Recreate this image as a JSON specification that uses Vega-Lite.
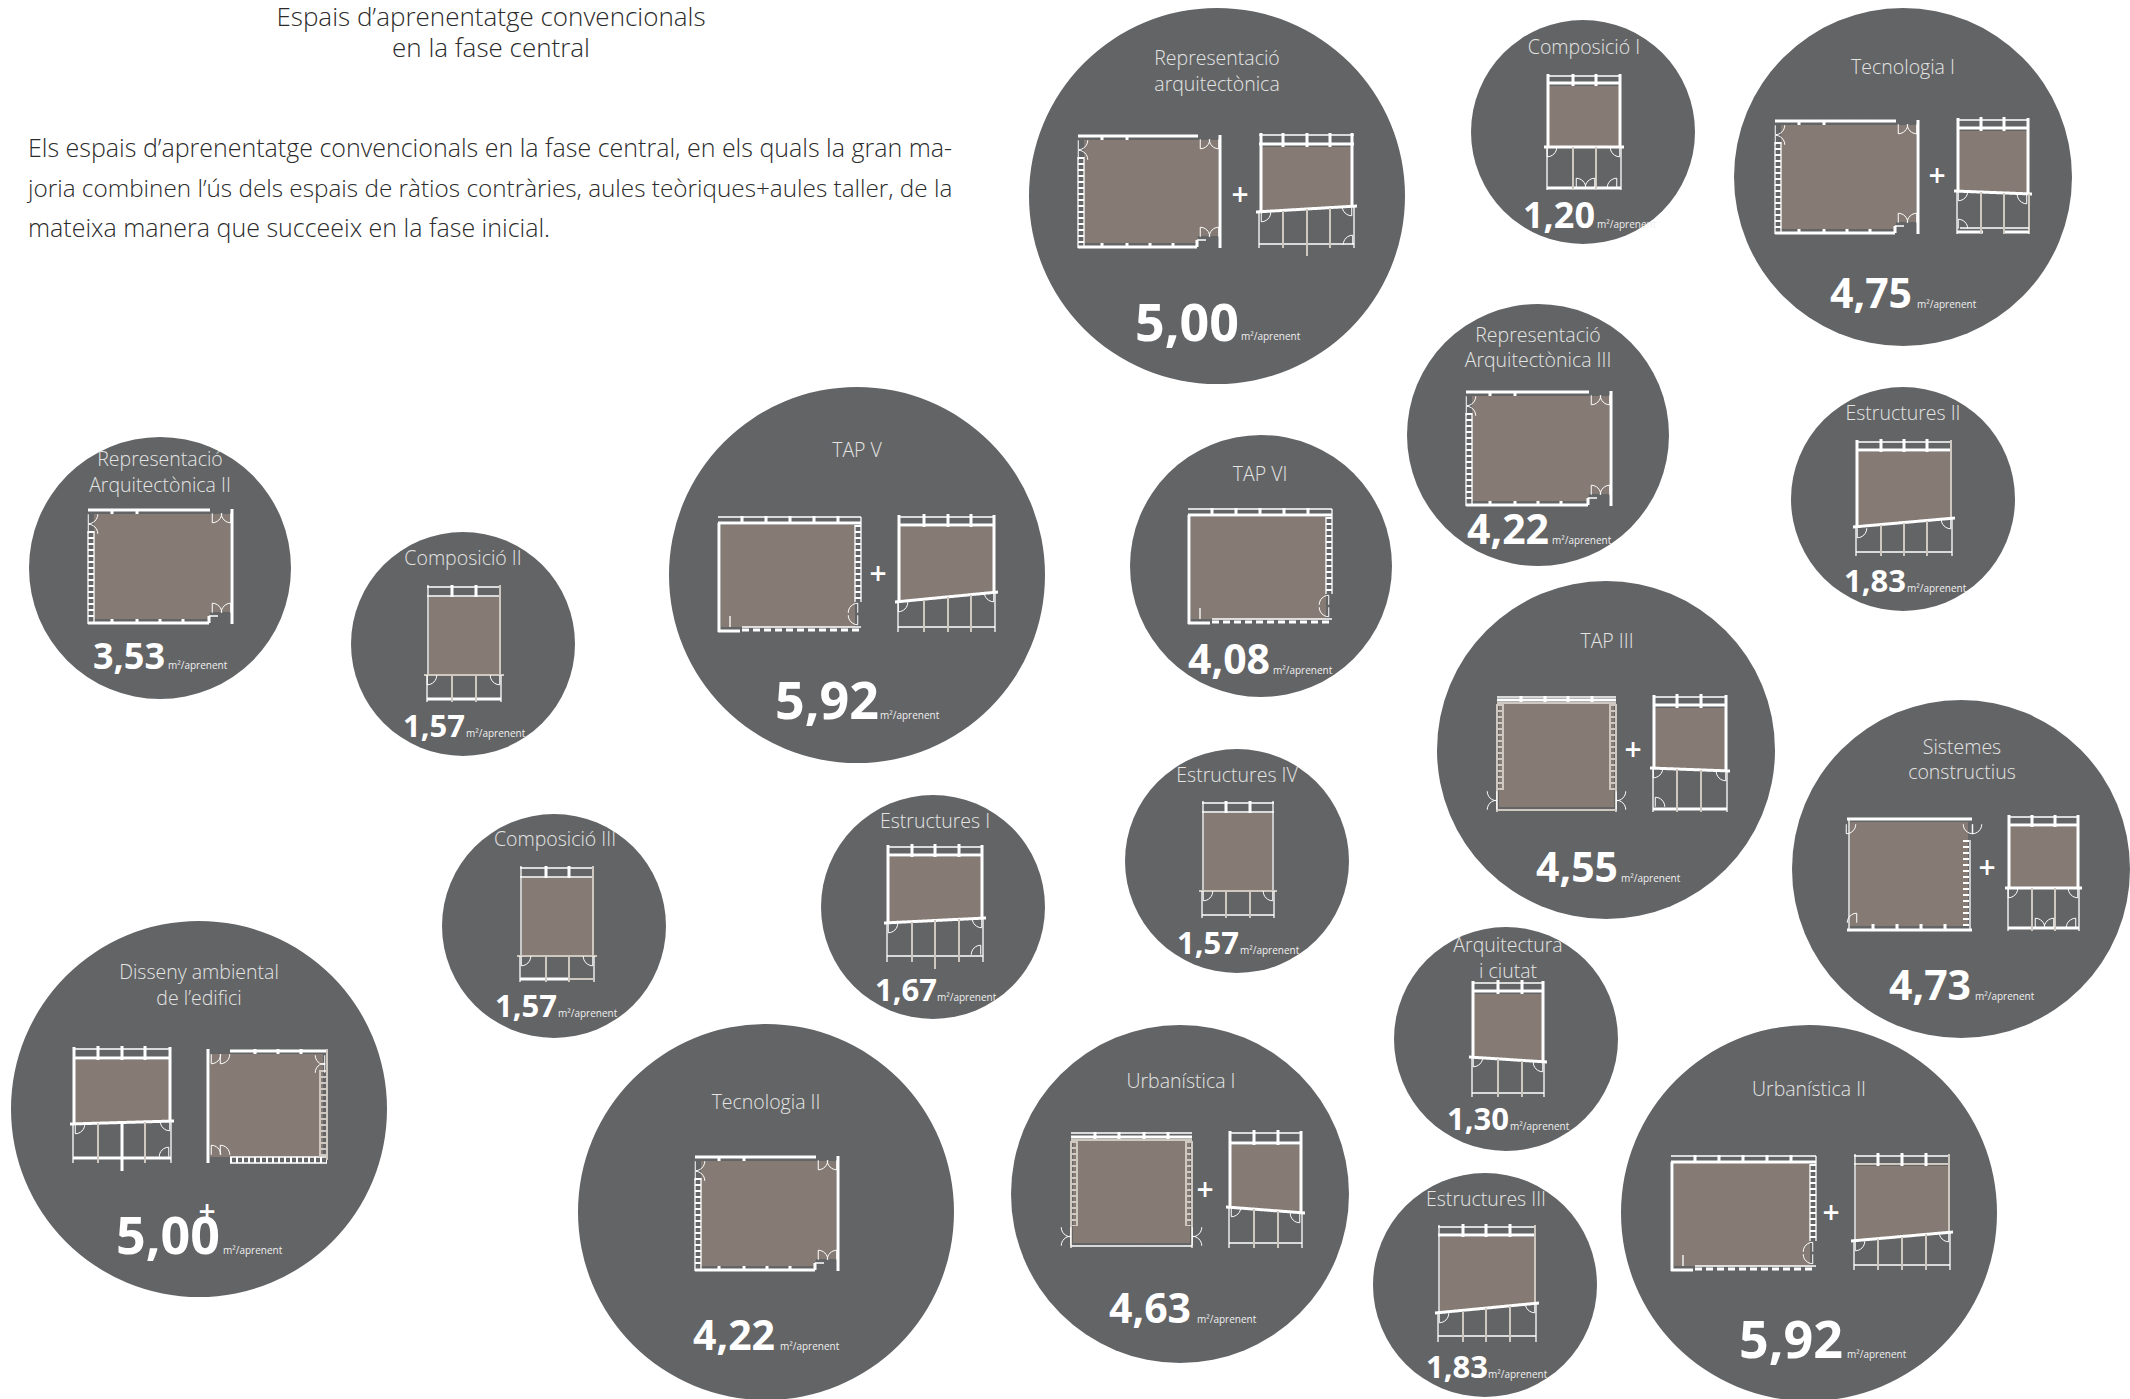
{"$schema":"https://vega.github.io/schema/vega-lite/v6.json","width":2130,"height":1399,"padding":0,"autosize":"none","background":"#ffffff","config":{"view":{"stroke":null}},
"datasets":{
"cercles":[
{"nom":"Representació arquitectònica","x":1217,"y":196,"mida":"a"},{"nom":"Composició I","x":1583,"y":132,"mida":"d"},{"nom":"Tecnologia I","x":1903,"y":177,"mida":"b"},{"nom":"Representació Arquitectònica III","x":1538,"y":435,"mida":"c"},{"nom":"Estructures II","x":1903,"y":499,"mida":"d"},{"nom":"Representació Arquitectònica II","x":160,"y":568,"mida":"c"},{"nom":"Composició II","x":463,"y":644,"mida":"d"},{"nom":"TAP V","x":857,"y":575,"mida":"a"},{"nom":"TAP VI","x":1261,"y":566,"mida":"c"},{"nom":"TAP III","x":1606,"y":750,"mida":"b"},{"nom":"Sistemes constructius","x":1961,"y":869,"mida":"b"},{"nom":"Composició III","x":554,"y":926,"mida":"d"},{"nom":"Estructures I","x":933,"y":907,"mida":"d"},{"nom":"Estructures IV","x":1237,"y":861,"mida":"d"},{"nom":"Arquitectura i ciutat","x":1506,"y":1039,"mida":"d"},{"nom":"Disseny ambiental de l’edifici","x":199,"y":1109,"mida":"a"},{"nom":"Tecnologia II","x":766,"y":1212,"mida":"a"},{"nom":"Urbanística I","x":1180,"y":1194,"mida":"b"},{"nom":"Estructures III","x":1485,"y":1285,"mida":"d"},{"nom":"Urbanística II","x":1809,"y":1213,"mida":"a"}],
"sales":[
{"s":"r1t","x":1084,"y":140,"y2":243},{"s":"r1t","x":1197,"y":140,"y2":243},{"s":"r1t","x":1198,"y":140,"y2":236},{"s":"r1t","x":1218,"y":140,"y2":236},
{"s":"r3t","x":1781,"y":125,"y2":229},{"s":"r3t","x":1895,"y":125,"y2":229},{"s":"r3t","x":1896,"y":125,"y2":222},{"s":"r3t","x":1916,"y":125,"y2":222},
{"s":"r4t","x":1472,"y":396,"y2":501},{"s":"r4t","x":1588,"y":396,"y2":501},{"s":"r4t","x":1589,"y":396,"y2":494},{"s":"r4t","x":1609,"y":396,"y2":494},
{"s":"r6t","x":94,"y":514,"y2":619},{"s":"r6t","x":209,"y":514,"y2":619},{"s":"r6t","x":210,"y":514,"y2":612},{"s":"r6t","x":230,"y":514,"y2":612},
{"s":"r17t","x":701,"y":1161,"y2":1266},{"s":"r17t","x":815,"y":1161,"y2":1266},{"s":"r17t","x":816,"y":1161,"y2":1259},{"s":"r17t","x":836,"y":1161,"y2":1259},
{"s":"r8t","x":721,"y":525,"y2":627},{"s":"r8t","x":855,"y":525,"y2":627},
{"s":"r9t","x":1191,"y":517,"y2":619},{"s":"r9t","x":1326,"y":517,"y2":619},
{"s":"r20t","x":1674,"y":1163,"y2":1266},{"s":"r20t","x":1810,"y":1163,"y2":1266},
{"s":"r10t","x":1499,"y":703,"y2":807},{"s":"r10t","x":1614,"y":703,"y2":807},
{"s":"r18t","x":1073,"y":1141,"y2":1243},{"s":"r18t","x":1190,"y":1141,"y2":1243},
{"s":"r16t","x":210,"y":1054,"y2":1157},{"s":"r16t","x":323,"y":1054,"y2":1157},
{"s":"r11t","x":1850,"y":822,"y2":926},{"s":"r11t","x":1968,"y":822,"y2":926},
{"s":"r1w","x":1261,"y":147,"y2":212},{"s":"r1w","x":1352,"y":147,"y2":206},
{"s":"r3w","x":1959,"y":131,"y2":191},{"s":"r3w","x":2027,"y":131,"y2":194},
{"s":"r2w","x":1549,"y":86,"y2":147},{"s":"r2w","x":1619,"y":86,"y2":147},
{"s":"r5w","x":1858,"y":452,"y2":527},{"s":"r5w","x":1950,"y":452,"y2":518},
{"s":"r7w","x":429,"y":597,"y2":675},{"s":"r7w","x":499,"y":597,"y2":675},
{"s":"r8w","x":900,"y":527,"y2":602},{"s":"r8w","x":993,"y":527,"y2":592},
{"s":"r10w","x":1655,"y":708,"y2":768},{"s":"r10w","x":1725,"y":708,"y2":771},
{"s":"r11w","x":2010,"y":827,"y2":888},{"s":"r11w","x":2077,"y":827,"y2":888},
{"s":"r12w","x":522,"y":878,"y2":956},{"s":"r12w","x":592,"y":878,"y2":956},
{"s":"r13w","x":889,"y":857,"y2":923},{"s":"r13w","x":981,"y":857,"y2":918},
{"s":"r14w","x":1204,"y":813,"y2":891},{"s":"r14w","x":1272,"y":813,"y2":891},
{"s":"r15w","x":1474,"y":994,"y2":1057},{"s":"r15w","x":1542,"y":994,"y2":1062},
{"s":"r16w","x":75,"y":1060,"y2":1124},{"s":"r16w","x":169,"y":1060,"y2":1121},
{"s":"r18w","x":1231,"y":1145,"y2":1207},{"s":"r18w","x":1300,"y":1145,"y2":1213},
{"s":"r19w","x":1440,"y":1237,"y2":1313},{"s":"r19w","x":1534,"y":1237,"y2":1303},
{"s":"r20w","x":1856,"y":1166,"y2":1241},{"s":"r20w","x":1948,"y":1166,"y2":1232}],
"murs":[
{"x":1078,"y":136,"x2":1198,"y2":136,"t":"m"},{"x":1220,"y":135,"x2":1220,"y2":248,"t":"m"},{"x":1078,"y":247,"x2":1197,"y2":247,"t":"m"},{"x":1197,"y":247,"x2":1197,"y2":240,"t":"m"},{"x":1197,"y":240,"x2":1206,"y2":240,"t":"f"},{"x":1078,"y":157,"x2":1078,"y2":248,"t":"f"},{"x":1084,"y":157,"x2":1084,"y2":248,"t":"f"},{"x":1081,"y":157,"x2":1081,"y2":245,"t":"e"},{"x":1102,"y":243,"x2":1102,"y2":248,"t":"m"},{"x":1127,"y":243,"x2":1127,"y2":248,"t":"m"},{"x":1150,"y":243,"x2":1150,"y2":248,"t":"m"},{"x":1173,"y":243,"x2":1173,"y2":248,"t":"m"},{"x":1102,"y":136,"x2":1102,"y2":140,"t":"m"},{"x":1127,"y":136,"x2":1127,"y2":140,"t":"m"},
{"x":1775,"y":121,"x2":1896,"y2":121,"t":"m"},{"x":1918,"y":120,"x2":1918,"y2":234,"t":"m"},{"x":1775,"y":233,"x2":1895,"y2":233,"t":"m"},{"x":1895,"y":233,"x2":1895,"y2":226,"t":"m"},{"x":1895,"y":226,"x2":1904,"y2":226,"t":"f"},{"x":1775,"y":142,"x2":1775,"y2":234,"t":"f"},{"x":1781,"y":142,"x2":1781,"y2":234,"t":"f"},{"x":1778,"y":142,"x2":1778,"y2":231,"t":"e"},{"x":1799,"y":229,"x2":1799,"y2":234,"t":"m"},{"x":1824,"y":229,"x2":1824,"y2":234,"t":"m"},{"x":1847,"y":229,"x2":1847,"y2":234,"t":"m"},{"x":1870,"y":229,"x2":1870,"y2":234,"t":"m"},{"x":1799,"y":121,"x2":1799,"y2":125,"t":"m"},{"x":1824,"y":121,"x2":1824,"y2":125,"t":"m"},
{"x":1466,"y":392,"x2":1589,"y2":392,"t":"m"},{"x":1611,"y":391,"x2":1611,"y2":506,"t":"m"},{"x":1466,"y":505,"x2":1588,"y2":505,"t":"m"},{"x":1588,"y":505,"x2":1588,"y2":498,"t":"m"},{"x":1588,"y":498,"x2":1597,"y2":498,"t":"f"},{"x":1466,"y":413,"x2":1466,"y2":506,"t":"f"},{"x":1472,"y":413,"x2":1472,"y2":506,"t":"f"},{"x":1469,"y":413,"x2":1469,"y2":503,"t":"e"},{"x":1490,"y":501,"x2":1490,"y2":506,"t":"m"},{"x":1515,"y":501,"x2":1515,"y2":506,"t":"m"},{"x":1538,"y":501,"x2":1538,"y2":506,"t":"m"},{"x":1561,"y":501,"x2":1561,"y2":506,"t":"m"},{"x":1490,"y":392,"x2":1490,"y2":396,"t":"m"},{"x":1515,"y":392,"x2":1515,"y2":396,"t":"m"},
{"x":88,"y":510,"x2":210,"y2":510,"t":"m"},{"x":232,"y":509,"x2":232,"y2":624,"t":"m"},{"x":88,"y":623,"x2":209,"y2":623,"t":"m"},{"x":209,"y":623,"x2":209,"y2":616,"t":"m"},{"x":209,"y":616,"x2":218,"y2":616,"t":"f"},{"x":88,"y":531,"x2":88,"y2":624,"t":"f"},{"x":94,"y":531,"x2":94,"y2":624,"t":"f"},{"x":91,"y":531,"x2":91,"y2":621,"t":"e"},{"x":112,"y":619,"x2":112,"y2":624,"t":"m"},{"x":137,"y":619,"x2":137,"y2":624,"t":"m"},{"x":160,"y":619,"x2":160,"y2":624,"t":"m"},{"x":183,"y":619,"x2":183,"y2":624,"t":"m"},{"x":112,"y":510,"x2":112,"y2":514,"t":"m"},{"x":137,"y":510,"x2":137,"y2":514,"t":"m"},
{"x":695,"y":1157,"x2":816,"y2":1157,"t":"m"},{"x":838,"y":1156,"x2":838,"y2":1271,"t":"m"},{"x":695,"y":1270,"x2":815,"y2":1270,"t":"m"},{"x":815,"y":1270,"x2":815,"y2":1263,"t":"m"},{"x":815,"y":1263,"x2":824,"y2":1263,"t":"f"},{"x":695,"y":1178,"x2":695,"y2":1271,"t":"f"},{"x":701,"y":1178,"x2":701,"y2":1271,"t":"f"},{"x":698,"y":1178,"x2":698,"y2":1268,"t":"e"},{"x":719,"y":1266,"x2":719,"y2":1271,"t":"m"},{"x":744,"y":1266,"x2":744,"y2":1271,"t":"m"},{"x":767,"y":1266,"x2":767,"y2":1271,"t":"m"},{"x":790,"y":1266,"x2":790,"y2":1271,"t":"m"},{"x":719,"y":1157,"x2":719,"y2":1161,"t":"m"},{"x":744,"y":1157,"x2":744,"y2":1161,"t":"m"},
{"x":718,"y":517,"x2":861,"y2":517,"t":"f"},{"x":718,"y":523,"x2":861,"y2":523,"t":"m"},{"x":719,"y":523,"x2":719,"y2":632,"t":"m"},{"x":861,"y":517,"x2":861,"y2":602,"t":"f"},{"x":858,"y":525,"x2":858,"y2":602,"t":"e"},{"x":855,"y":525,"x2":855,"y2":602,"t":"f"},{"x":718,"y":631,"x2":740,"y2":631,"t":"m"},{"x":742,"y":627,"x2":861,"y2":627,"t":"f"},{"x":742,"y":630,"x2":861,"y2":630,"t":"d"},{"x":730,"y":616,"x2":730,"y2":627,"t":"f"},{"x":742,"y":516,"x2":742,"y2":523,"t":"m"},{"x":766,"y":516,"x2":766,"y2":523,"t":"m"},{"x":790,"y":516,"x2":790,"y2":523,"t":"m"},{"x":814,"y":516,"x2":814,"y2":523,"t":"m"},{"x":838,"y":516,"x2":838,"y2":523,"t":"m"},
{"x":1188,"y":509,"x2":1332,"y2":509,"t":"f"},{"x":1188,"y":515,"x2":1332,"y2":515,"t":"m"},{"x":1189,"y":515,"x2":1189,"y2":624,"t":"m"},{"x":1332,"y":509,"x2":1332,"y2":594,"t":"f"},{"x":1329,"y":517,"x2":1329,"y2":594,"t":"e"},{"x":1326,"y":517,"x2":1326,"y2":594,"t":"f"},{"x":1188,"y":623,"x2":1210,"y2":623,"t":"m"},{"x":1212,"y":619,"x2":1332,"y2":619,"t":"f"},{"x":1212,"y":622,"x2":1332,"y2":622,"t":"d"},{"x":1200,"y":608,"x2":1200,"y2":619,"t":"f"},{"x":1212,"y":508,"x2":1212,"y2":515,"t":"m"},{"x":1236,"y":508,"x2":1236,"y2":515,"t":"m"},{"x":1260,"y":508,"x2":1260,"y2":515,"t":"m"},{"x":1284,"y":508,"x2":1284,"y2":515,"t":"m"},{"x":1308,"y":508,"x2":1308,"y2":515,"t":"m"},
{"x":1671,"y":1156,"x2":1816,"y2":1156,"t":"f"},{"x":1671,"y":1162,"x2":1816,"y2":1162,"t":"m"},{"x":1672,"y":1162,"x2":1672,"y2":1271,"t":"m"},{"x":1816,"y":1156,"x2":1816,"y2":1241,"t":"f"},{"x":1813,"y":1164,"x2":1813,"y2":1241,"t":"e"},{"x":1810,"y":1164,"x2":1810,"y2":1241,"t":"f"},{"x":1671,"y":1270,"x2":1693,"y2":1270,"t":"m"},{"x":1695,"y":1266,"x2":1816,"y2":1266,"t":"f"},{"x":1695,"y":1269,"x2":1816,"y2":1269,"t":"d"},{"x":1683,"y":1255,"x2":1683,"y2":1266,"t":"f"},{"x":1695,"y":1155,"x2":1695,"y2":1162,"t":"m"},{"x":1719,"y":1155,"x2":1719,"y2":1162,"t":"m"},{"x":1743,"y":1155,"x2":1743,"y2":1162,"t":"m"},{"x":1767,"y":1155,"x2":1767,"y2":1162,"t":"m"},{"x":1791,"y":1155,"x2":1791,"y2":1162,"t":"m"},
{"x":1497,"y":697,"x2":1616,"y2":697,"t":"f"},{"x":1497,"y":700,"x2":1616,"y2":700,"t":"m"},{"x":1497,"y":703,"x2":1616,"y2":703,"t":"c"},{"x":1500,"y":704,"x2":1500,"y2":790,"t":"ec"},{"x":1613,"y":704,"x2":1613,"y2":790,"t":"ec"},{"x":1503,"y":704,"x2":1503,"y2":790,"t":"c"},{"x":1610,"y":704,"x2":1610,"y2":790,"t":"c"},{"x":1497,"y":704,"x2":1497,"y2":812,"t":"c"},{"x":1616,"y":704,"x2":1616,"y2":812,"t":"c"},{"x":1497,"y":810,"x2":1616,"y2":810,"t":"c"},{"x":1521,"y":696,"x2":1521,"y2":702,"t":"m"},{"x":1545,"y":696,"x2":1545,"y2":702,"t":"m"},{"x":1568,"y":696,"x2":1568,"y2":702,"t":"m"},{"x":1592,"y":696,"x2":1592,"y2":702,"t":"m"},
{"x":1071,"y":1133,"x2":1192,"y2":1133,"t":"f"},{"x":1071,"y":1137,"x2":1192,"y2":1137,"t":"m"},{"x":1071,"y":1140,"x2":1192,"y2":1140,"t":"c"},{"x":1074,"y":1141,"x2":1074,"y2":1226,"t":"ec"},{"x":1189,"y":1141,"x2":1189,"y2":1226,"t":"ec"},{"x":1077,"y":1141,"x2":1077,"y2":1226,"t":"c"},{"x":1186,"y":1141,"x2":1186,"y2":1226,"t":"c"},{"x":1071,"y":1141,"x2":1071,"y2":1248,"t":"c"},{"x":1192,"y":1141,"x2":1192,"y2":1248,"t":"c"},{"x":1071,"y":1246,"x2":1192,"y2":1246,"t":"f"},{"x":1095,"y":1132,"x2":1095,"y2":1139,"t":"m"},{"x":1119,"y":1132,"x2":1119,"y2":1139,"t":"m"},{"x":1144,"y":1132,"x2":1144,"y2":1139,"t":"m"},{"x":1168,"y":1132,"x2":1168,"y2":1139,"t":"m"},
{"x":208,"y":1049,"x2":208,"y2":1163,"t":"m"},{"x":230,"y":1051,"x2":327,"y2":1051,"t":"m"},{"x":230,"y":1160,"x2":327,"y2":1160,"t":"e"},{"x":230,"y":1157,"x2":327,"y2":1157,"t":"f"},{"x":230,"y":1163,"x2":327,"y2":1163,"t":"f"},{"x":323,"y":1070,"x2":323,"y2":1157,"t":"ec"},{"x":320,"y":1070,"x2":320,"y2":1157,"t":"c"},{"x":327,"y":1049,"x2":327,"y2":1160,"t":"c"},{"x":255,"y":1049,"x2":255,"y2":1054,"t":"m"},{"x":278,"y":1049,"x2":278,"y2":1054,"t":"m"},{"x":301,"y":1049,"x2":301,"y2":1054,"t":"m"},
{"x":1847,"y":819,"x2":1972,"y2":819,"t":"m"},{"x":1849,"y":819,"x2":1849,"y2":931,"t":"f"},{"x":1847,"y":930,"x2":1972,"y2":930,"t":"m"},{"x":1966,"y":840,"x2":1966,"y2":926,"t":"e"},{"x":1970,"y":840,"x2":1970,"y2":931,"t":"f"},{"x":1873,"y":924,"x2":1873,"y2":931,"t":"m"},{"x":1897,"y":924,"x2":1897,"y2":931,"t":"m"},{"x":1921,"y":924,"x2":1921,"y2":931,"t":"m"},{"x":1945,"y":924,"x2":1945,"y2":931,"t":"m"},
{"x":1259,"y":135,"x2":1354,"y2":135,"t":"f"},{"x":1259,"y":144,"x2":1354,"y2":144,"t":"m"},{"x":1261,"y":133,"x2":1261,"y2":212,"t":"m"},{"x":1352,"y":133,"x2":1352,"y2":206,"t":"m"},{"x":1256,"y":212,"x2":1357,"y2":206,"t":"m"},{"x":1259,"y":212,"x2":1259,"y2":248,"t":"f"},{"x":1354,"y":206,"x2":1354,"y2":248,"t":"f"},{"x":1259,"y":244,"x2":1354,"y2":244,"t":"f"},{"x":1283,"y":133,"x2":1283,"y2":147,"t":"m"},{"x":1307,"y":133,"x2":1307,"y2":147,"t":"m"},{"x":1330,"y":133,"x2":1330,"y2":147,"t":"m"},{"x":1283,"y":211,"x2":1283,"y2":248,"t":"c"},{"x":1307,"y":209,"x2":1307,"y2":256,"t":"c"},{"x":1330,"y":208,"x2":1330,"y2":248,"t":"c"},
{"x":1957,"y":120,"x2":2029,"y2":120,"t":"f"},{"x":1957,"y":128,"x2":2029,"y2":128,"t":"m"},{"x":1958,"y":118,"x2":1958,"y2":191,"t":"m"},{"x":2028,"y":118,"x2":2028,"y2":194,"t":"m"},{"x":1954,"y":191,"x2":2032,"y2":194,"t":"m"},{"x":1957,"y":191,"x2":1957,"y2":234,"t":"f"},{"x":2029,"y":194,"x2":2029,"y2":234,"t":"c"},{"x":1957,"y":232,"x2":1983,"y2":232,"t":"m"},{"x":1960,"y":228,"x2":2029,"y2":228,"t":"f"},{"x":2004,"y":232,"x2":2029,"y2":232,"t":"m"},{"x":1981,"y":117,"x2":1981,"y2":131,"t":"m"},{"x":2004,"y":117,"x2":2004,"y2":131,"t":"m"},{"x":1981,"y":192,"x2":1981,"y2":234,"t":"c"},{"x":2004,"y":193,"x2":2004,"y2":234,"t":"c"},
{"x":1547,"y":76,"x2":1621,"y2":76,"t":"f"},{"x":1547,"y":83,"x2":1621,"y2":83,"t":"m"},{"x":1548,"y":74,"x2":1548,"y2":147,"t":"m"},{"x":1620,"y":74,"x2":1620,"y2":147,"t":"m"},{"x":1544,"y":147,"x2":1624,"y2":147,"t":"m"},{"x":1547,"y":147,"x2":1547,"y2":190,"t":"f"},{"x":1621,"y":147,"x2":1621,"y2":190,"t":"f"},{"x":1547,"y":188,"x2":1621,"y2":188,"t":"m"},{"x":1573,"y":74,"x2":1573,"y2":86,"t":"m"},{"x":1596,"y":74,"x2":1596,"y2":86,"t":"m"},{"x":1573,"y":147,"x2":1573,"y2":190,"t":"c"},{"x":1596,"y":147,"x2":1596,"y2":190,"t":"c"},
{"x":1856,"y":442,"x2":1952,"y2":442,"t":"f"},{"x":1856,"y":450,"x2":1952,"y2":450,"t":"m"},{"x":1857,"y":440,"x2":1857,"y2":527,"t":"m"},{"x":1951,"y":440,"x2":1951,"y2":518,"t":"c"},{"x":1853,"y":527,"x2":1955,"y2":518,"t":"m"},{"x":1856,"y":527,"x2":1856,"y2":556,"t":"f"},{"x":1952,"y":518,"x2":1952,"y2":556,"t":"f"},{"x":1856,"y":552,"x2":1952,"y2":552,"t":"f"},{"x":1881,"y":439,"x2":1881,"y2":452,"t":"m"},{"x":1904,"y":439,"x2":1904,"y2":452,"t":"m"},{"x":1927,"y":439,"x2":1927,"y2":452,"t":"m"},{"x":1881,"y":525,"x2":1881,"y2":556,"t":"c"},{"x":1904,"y":523,"x2":1904,"y2":556,"t":"c"},{"x":1927,"y":521,"x2":1927,"y2":556,"t":"c"},
{"x":427,"y":587,"x2":501,"y2":587,"t":"f"},{"x":427,"y":596,"x2":501,"y2":596,"t":"f"},{"x":428,"y":585,"x2":428,"y2":675,"t":"f"},{"x":500,"y":585,"x2":500,"y2":675,"t":"c"},{"x":424,"y":675,"x2":504,"y2":675,"t":"c"},{"x":427,"y":675,"x2":427,"y2":702,"t":"f"},{"x":501,"y":675,"x2":501,"y2":702,"t":"f"},{"x":427,"y":699,"x2":501,"y2":699,"t":"m"},{"x":452,"y":585,"x2":452,"y2":597,"t":"m"},{"x":476,"y":585,"x2":476,"y2":597,"t":"m"},{"x":452,"y":675,"x2":452,"y2":702,"t":"c"},{"x":476,"y":675,"x2":476,"y2":702,"t":"c"},
{"x":898,"y":517,"x2":995,"y2":517,"t":"f"},{"x":898,"y":525,"x2":995,"y2":525,"t":"m"},{"x":899,"y":515,"x2":899,"y2":602,"t":"m"},{"x":994,"y":515,"x2":994,"y2":592,"t":"m"},{"x":895,"y":602,"x2":998,"y2":592,"t":"m"},{"x":898,"y":602,"x2":898,"y2":632,"t":"f"},{"x":995,"y":592,"x2":995,"y2":632,"t":"f"},{"x":898,"y":627,"x2":995,"y2":627,"t":"f"},{"x":924,"y":514,"x2":924,"y2":527,"t":"m"},{"x":948,"y":514,"x2":948,"y2":527,"t":"m"},{"x":971,"y":514,"x2":971,"y2":527,"t":"m"},{"x":924,"y":600,"x2":924,"y2":632,"t":"c"},{"x":948,"y":597,"x2":948,"y2":632,"t":"c"},{"x":971,"y":595,"x2":971,"y2":632,"t":"c"},
{"x":1653,"y":697,"x2":1727,"y2":697,"t":"f"},{"x":1653,"y":705,"x2":1727,"y2":705,"t":"m"},{"x":1654,"y":695,"x2":1654,"y2":768,"t":"m"},{"x":1726,"y":695,"x2":1726,"y2":771,"t":"m"},{"x":1650,"y":768,"x2":1730,"y2":771,"t":"m"},{"x":1653,"y":768,"x2":1653,"y2":812,"t":"f"},{"x":1727,"y":771,"x2":1727,"y2":812,"t":"f"},{"x":1653,"y":809,"x2":1727,"y2":809,"t":"m"},{"x":1677,"y":694,"x2":1677,"y2":708,"t":"m"},{"x":1701,"y":694,"x2":1701,"y2":708,"t":"m"},{"x":1677,"y":769,"x2":1677,"y2":812,"t":"c"},{"x":1701,"y":770,"x2":1701,"y2":812,"t":"c"},
{"x":2008,"y":817,"x2":2079,"y2":817,"t":"f"},{"x":2008,"y":825,"x2":2079,"y2":825,"t":"m"},{"x":2009,"y":815,"x2":2009,"y2":888,"t":"m"},{"x":2078,"y":815,"x2":2078,"y2":888,"t":"m"},{"x":2005,"y":888,"x2":2082,"y2":888,"t":"m"},{"x":2008,"y":888,"x2":2008,"y2":931,"t":"f"},{"x":2079,"y":888,"x2":2079,"y2":931,"t":"f"},{"x":2008,"y":928,"x2":2079,"y2":928,"t":"m"},{"x":2032,"y":815,"x2":2032,"y2":827,"t":"m"},{"x":2055,"y":815,"x2":2055,"y2":827,"t":"m"},{"x":2032,"y":888,"x2":2032,"y2":931,"t":"c"},{"x":2055,"y":888,"x2":2055,"y2":931,"t":"c"},
{"x":520,"y":868,"x2":594,"y2":868,"t":"f"},{"x":520,"y":877,"x2":594,"y2":877,"t":"f"},{"x":521,"y":866,"x2":521,"y2":956,"t":"f"},{"x":593,"y":866,"x2":593,"y2":956,"t":"c"},{"x":517,"y":956,"x2":597,"y2":956,"t":"c"},{"x":520,"y":956,"x2":520,"y2":982,"t":"f"},{"x":594,"y":956,"x2":594,"y2":982,"t":"f"},{"x":520,"y":979,"x2":570,"y2":979,"t":"m"},{"x":570,"y":979,"x2":594,"y2":979,"t":"c"},{"x":546,"y":866,"x2":546,"y2":878,"t":"m"},{"x":569,"y":866,"x2":569,"y2":878,"t":"m"},{"x":546,"y":956,"x2":546,"y2":982,"t":"c"},{"x":569,"y":956,"x2":569,"y2":982,"t":"c"},
{"x":887,"y":847,"x2":983,"y2":847,"t":"f"},{"x":887,"y":855,"x2":983,"y2":855,"t":"m"},{"x":888,"y":845,"x2":888,"y2":923,"t":"m"},{"x":982,"y":845,"x2":982,"y2":918,"t":"m"},{"x":884,"y":923,"x2":986,"y2":918,"t":"m"},{"x":887,"y":923,"x2":887,"y2":962,"t":"f"},{"x":983,"y":918,"x2":983,"y2":962,"t":"f"},{"x":887,"y":956,"x2":983,"y2":956,"t":"f"},{"x":912,"y":844,"x2":912,"y2":857,"t":"m"},{"x":935,"y":844,"x2":935,"y2":857,"t":"m"},{"x":959,"y":844,"x2":959,"y2":857,"t":"m"},{"x":912,"y":922,"x2":912,"y2":962,"t":"c"},{"x":935,"y":920,"x2":935,"y2":969,"t":"c"},{"x":959,"y":919,"x2":959,"y2":962,"t":"c"},
{"x":1202,"y":803,"x2":1274,"y2":803,"t":"f"},{"x":1202,"y":812,"x2":1274,"y2":812,"t":"f"},{"x":1203,"y":801,"x2":1203,"y2":891,"t":"f"},{"x":1273,"y":801,"x2":1273,"y2":891,"t":"f"},{"x":1199,"y":891,"x2":1277,"y2":891,"t":"c"},{"x":1202,"y":891,"x2":1202,"y2":918,"t":"f"},{"x":1274,"y":891,"x2":1274,"y2":918,"t":"f"},{"x":1202,"y":915,"x2":1274,"y2":915,"t":"f"},{"x":1226,"y":801,"x2":1226,"y2":813,"t":"m"},{"x":1250,"y":801,"x2":1250,"y2":813,"t":"m"},{"x":1226,"y":891,"x2":1226,"y2":918,"t":"c"},{"x":1250,"y":891,"x2":1250,"y2":918,"t":"c"},
{"x":1472,"y":983,"x2":1544,"y2":983,"t":"f"},{"x":1472,"y":991,"x2":1544,"y2":991,"t":"m"},{"x":1473,"y":981,"x2":1473,"y2":1057,"t":"m"},{"x":1543,"y":981,"x2":1543,"y2":1062,"t":"m"},{"x":1469,"y":1057,"x2":1547,"y2":1062,"t":"m"},{"x":1472,"y":1057,"x2":1472,"y2":1097,"t":"f"},{"x":1544,"y":1062,"x2":1544,"y2":1097,"t":"f"},{"x":1472,"y":1093,"x2":1544,"y2":1093,"t":"f"},{"x":1498,"y":980,"x2":1498,"y2":994,"t":"m"},{"x":1522,"y":980,"x2":1522,"y2":994,"t":"m"},{"x":1498,"y":1059,"x2":1498,"y2":1097,"t":"c"},{"x":1522,"y":1061,"x2":1522,"y2":1097,"t":"c"},
{"x":73,"y":1049,"x2":171,"y2":1049,"t":"f"},{"x":73,"y":1058,"x2":171,"y2":1058,"t":"m"},{"x":74,"y":1047,"x2":74,"y2":1124,"t":"m"},{"x":170,"y":1047,"x2":170,"y2":1121,"t":"m"},{"x":70,"y":1124,"x2":174,"y2":1121,"t":"m"},{"x":73,"y":1124,"x2":73,"y2":1163,"t":"f"},{"x":171,"y":1121,"x2":171,"y2":1163,"t":"f"},{"x":73,"y":1158,"x2":171,"y2":1158,"t":"m"},{"x":98,"y":1046,"x2":98,"y2":1060,"t":"m"},{"x":122,"y":1046,"x2":122,"y2":1060,"t":"m"},{"x":145,"y":1046,"x2":145,"y2":1060,"t":"m"},{"x":98,"y":1123,"x2":98,"y2":1163,"t":"c"},{"x":122,"y":1122,"x2":122,"y2":1171,"t":"m"},{"x":145,"y":1122,"x2":145,"y2":1163,"t":"c"},
{"x":1229,"y":1133,"x2":1302,"y2":1133,"t":"f"},{"x":1229,"y":1143,"x2":1302,"y2":1143,"t":"m"},{"x":1230,"y":1131,"x2":1230,"y2":1207,"t":"m"},{"x":1301,"y":1131,"x2":1301,"y2":1213,"t":"m"},{"x":1226,"y":1207,"x2":1305,"y2":1213,"t":"m"},{"x":1229,"y":1207,"x2":1229,"y2":1248,"t":"f"},{"x":1302,"y":1213,"x2":1302,"y2":1248,"t":"f"},{"x":1229,"y":1243,"x2":1302,"y2":1243,"t":"f"},{"x":1254,"y":1130,"x2":1254,"y2":1145,"t":"m"},{"x":1278,"y":1130,"x2":1278,"y2":1145,"t":"m"},{"x":1254,"y":1209,"x2":1254,"y2":1248,"t":"c"},{"x":1278,"y":1211,"x2":1278,"y2":1248,"t":"c"},
{"x":1438,"y":1227,"x2":1536,"y2":1227,"t":"f"},{"x":1438,"y":1235,"x2":1536,"y2":1235,"t":"m"},{"x":1439,"y":1225,"x2":1439,"y2":1313,"t":"f"},{"x":1535,"y":1225,"x2":1535,"y2":1303,"t":"c"},{"x":1435,"y":1313,"x2":1539,"y2":1303,"t":"m"},{"x":1438,"y":1313,"x2":1438,"y2":1342,"t":"f"},{"x":1536,"y":1303,"x2":1536,"y2":1342,"t":"f"},{"x":1438,"y":1336,"x2":1536,"y2":1336,"t":"f"},{"x":1463,"y":1224,"x2":1463,"y2":1237,"t":"m"},{"x":1486,"y":1224,"x2":1486,"y2":1237,"t":"m"},{"x":1510,"y":1224,"x2":1510,"y2":1237,"t":"m"},{"x":1463,"y":1311,"x2":1463,"y2":1342,"t":"c"},{"x":1486,"y":1308,"x2":1486,"y2":1342,"t":"c"},{"x":1510,"y":1306,"x2":1510,"y2":1342,"t":"c"},
{"x":1854,"y":1156,"x2":1950,"y2":1156,"t":"f"},{"x":1854,"y":1164,"x2":1950,"y2":1164,"t":"c"},{"x":1855,"y":1154,"x2":1855,"y2":1241,"t":"f"},{"x":1949,"y":1154,"x2":1949,"y2":1232,"t":"c"},{"x":1851,"y":1241,"x2":1953,"y2":1232,"t":"m"},{"x":1854,"y":1241,"x2":1854,"y2":1270,"t":"f"},{"x":1950,"y":1232,"x2":1950,"y2":1270,"t":"f"},{"x":1854,"y":1265,"x2":1950,"y2":1265,"t":"f"},{"x":1878,"y":1153,"x2":1878,"y2":1166,"t":"m"},{"x":1902,"y":1153,"x2":1902,"y2":1166,"t":"m"},{"x":1926,"y":1153,"x2":1926,"y2":1166,"t":"m"},{"x":1878,"y":1239,"x2":1878,"y2":1270,"t":"c"},{"x":1902,"y":1237,"x2":1902,"y2":1270,"t":"c"},{"x":1926,"y":1234,"x2":1926,"y2":1270,"t":"c"}],
"portes":[
{"x":1205,"y":144,"o":"c"},{"x":1214,"y":144,"o":"d"},{"x":1205,"y":232,"o":"a"},{"x":1214,"y":232,"o":"b"},{"x":1083,"y":145,"o":"c"},{"x":1083,"y":155,"o":"a"},
{"x":1903,"y":129,"o":"c"},{"x":1912,"y":129,"o":"d"},{"x":1903,"y":218,"o":"a"},{"x":1912,"y":218,"o":"b"},{"x":1780,"y":130,"o":"c"},{"x":1780,"y":140,"o":"a"},
{"x":1596,"y":400,"o":"c"},{"x":1605,"y":400,"o":"d"},{"x":1596,"y":490,"o":"a"},{"x":1605,"y":490,"o":"b"},{"x":1471,"y":401,"o":"c"},{"x":1471,"y":411,"o":"a"},
{"x":217,"y":518,"o":"c"},{"x":226,"y":518,"o":"d"},{"x":217,"y":608,"o":"a"},{"x":226,"y":608,"o":"b"},{"x":93,"y":519,"o":"c"},{"x":93,"y":529,"o":"a"},
{"x":823,"y":1165,"o":"c"},{"x":832,"y":1165,"o":"d"},{"x":823,"y":1255,"o":"a"},{"x":832,"y":1255,"o":"b"},{"x":700,"y":1166,"o":"c"},{"x":700,"y":1176,"o":"a"},
{"x":853,"y":608,"o":"b"},{"x":853,"y":620,"o":"d"},{"x":1324,"y":600,"o":"b"},{"x":1324,"y":612,"o":"d"},{"x":1808,"y":1247,"o":"b"},{"x":1808,"y":1259,"o":"d"},
{"x":1492,"y":796,"o":"d"},{"x":1492,"y":805,"o":"b"},{"x":1621,"y":796,"o":"c"},{"x":1621,"y":805,"o":"a"},{"x":1066,"y":1232,"o":"d"},{"x":1066,"y":1241,"o":"b"},{"x":1197,"y":1232,"o":"c"},{"x":1197,"y":1241,"o":"a"},
{"x":216,"y":1059,"o":"c"},{"x":225,"y":1059,"o":"c"},{"x":216,"y":1150,"o":"a"},{"x":225,"y":1150,"o":"a"},{"x":320,"y":1060,"o":"d"},{"x":320,"y":1068,"o":"b"},
{"x":1851,"y":829,"o":"c"},{"x":1968,"y":829,"o":"d"},{"x":1977,"y":829,"o":"c"},{"x":1852,"y":918,"o":"b"},
{"x":1266,"y":217,"o":"c"},{"x":1347,"y":211,"o":"d"},{"x":1348,"y":240,"o":"b"},{"x":1963,"y":196,"o":"c"},{"x":2022,"y":199,"o":"d"},{"x":1963,"y":224,"o":"a"},
{"x":1552,"y":152,"o":"c"},{"x":1615,"y":152,"o":"d"},{"x":1581,"y":183,"o":"a"},{"x":1590,"y":183,"o":"b"},{"x":1612,"y":183,"o":"b"},
{"x":1862,"y":533,"o":"c"},{"x":1946,"y":524,"o":"d"},{"x":432,"y":680,"o":"c"},{"x":495,"y":680,"o":"d"},{"x":903,"y":607,"o":"c"},{"x":989,"y":597,"o":"d"},
{"x":1658,"y":773,"o":"c"},{"x":1721,"y":776,"o":"d"},{"x":1660,"y":802,"o":"a"},{"x":2013,"y":893,"o":"c"},{"x":2073,"y":893,"o":"d"},{"x":2040,"y":923,"o":"a"},{"x":2049,"y":923,"o":"b"},{"x":2071,"y":923,"o":"b"},
{"x":526,"y":961,"o":"c"},{"x":588,"y":961,"o":"d"},{"x":893,"y":928,"o":"c"},{"x":977,"y":923,"o":"d"},{"x":976,"y":950,"o":"b"},
{"x":1208,"y":896,"o":"c"},{"x":1268,"y":896,"o":"d"},{"x":1478,"y":1062,"o":"c"},{"x":1538,"y":1067,"o":"d"},{"x":80,"y":1129,"o":"c"},{"x":165,"y":1126,"o":"d"},{"x":164,"y":1152,"o":"b"},
{"x":1236,"y":1212,"o":"c"},{"x":1295,"y":1218,"o":"d"},{"x":1444,"y":1318,"o":"c"},{"x":1530,"y":1308,"o":"d"},{"x":1860,"y":1246,"o":"c"},{"x":1944,"y":1237,"o":"d"}],
"textos":[
{"tipus":"titol","x":491,"y":26,"text":"Espais d’aprenentatge convencionals"},{"tipus":"titol","x":491,"y":57,"text":"en la fase central"},
{"tipus":"cos","x":28,"y":157,"text":"Els espais d’aprenentatge convencionals en la fase central, en els quals la gran ma-"},{"tipus":"cos2","x":28,"y":197,"text":"joria combinen l’ús dels espais de ràtios contràries, aules teòriques+aules taller, de la"},{"tipus":"cos","x":28,"y":237,"text":"mateixa manera que succeeix en la fase inicial."},
{"tipus":"nom","x":1217,"y":65,"text":"Representació"},{"tipus":"nom","x":1217,"y":91,"text":"arquitectònica"},{"tipus":"nom","x":1584,"y":54,"text":"Composició I"},{"tipus":"nom","x":1903,"y":74,"text":"Tecnologia I"},{"tipus":"nom","x":1538,"y":342,"text":"Representació"},{"tipus":"nom","x":1538,"y":367,"text":"Arquitectònica III"},{"tipus":"nom","x":1903,"y":420,"text":"Estructures II"},{"tipus":"nom","x":160,"y":466,"text":"Representació"},{"tipus":"nom","x":160,"y":492,"text":"Arquitectònica II"},{"tipus":"nom","x":463,"y":565,"text":"Composició II"},{"tipus":"nom","x":857,"y":457,"text":"TAP V"},{"tipus":"nom","x":1260,"y":481,"text":"TAP VI"},{"tipus":"nom","x":1607,"y":648,"text":"TAP III"},{"tipus":"nom","x":1962,"y":754,"text":"Sistemes"},{"tipus":"nom","x":1962,"y":779,"text":"constructius"},{"tipus":"nom","x":555,"y":846,"text":"Composició III"},{"tipus":"nom","x":935,"y":828,"text":"Estructures I"},{"tipus":"nom","x":1237,"y":782,"text":"Estructures IV"},{"tipus":"nom","x":1508,"y":952,"text":"Arquitectura"},{"tipus":"nom","x":1508,"y":978,"text":"i ciutat"},{"tipus":"nom","x":199,"y":979,"text":"Disseny ambiental"},{"tipus":"nom","x":199,"y":1005,"text":"de l’edifici"},{"tipus":"nom","x":766,"y":1109,"text":"Tecnologia II"},{"tipus":"nom","x":1181,"y":1088,"text":"Urbanística I"},{"tipus":"nom","x":1486,"y":1206,"text":"Estructures III"},{"tipus":"nom","x":1809,"y":1096,"text":"Urbanística II"},
{"tipus":"v1","x":1135,"y":341,"text":"5,00"},{"tipus":"v1","x":775,"y":719,"text":"5,92"},{"tipus":"v1","x":116,"y":1254,"text":"5,00"},{"tipus":"v1","x":1739,"y":1358,"text":"5,92"},
{"tipus":"v2","x":1830,"y":308,"text":"4,75"},{"tipus":"v2","x":1467,"y":544,"text":"4,22"},{"tipus":"v2","x":1188,"y":674,"text":"4,08"},{"tipus":"v2","x":1536,"y":882,"text":"4,55"},{"tipus":"v2","x":1889,"y":1000,"text":"4,73"},{"tipus":"v2","x":693,"y":1350,"text":"4,22"},{"tipus":"v2","x":1109,"y":1323,"text":"4,63"},
{"tipus":"v3","x":1523,"y":228,"text":"1,20"},{"tipus":"v3","x":93,"y":669,"text":"3,53"},
{"tipus":"v4","x":1844,"y":592,"text":"1,83"},{"tipus":"v4","x":403,"y":737,"text":"1,57"},{"tipus":"v4","x":495,"y":1017,"text":"1,57"},{"tipus":"v4","x":875,"y":1001,"text":"1,67"},{"tipus":"v4","x":1177,"y":954,"text":"1,57"},{"tipus":"v4","x":1447,"y":1130,"text":"1,30"},{"tipus":"v4","x":1426,"y":1378,"text":"1,83"},
{"tipus":"unitat","x":1241,"y":340,"text":"m²/aprenent"},{"tipus":"unitat","x":1597,"y":228,"text":"m²/aprenent"},{"tipus":"unitat","x":1917,"y":308,"text":"m²/aprenent"},{"tipus":"unitat","x":1552,"y":544,"text":"m²/aprenent"},{"tipus":"unitat","x":1907,"y":592,"text":"m²/aprenent"},{"tipus":"unitat","x":168,"y":669,"text":"m²/aprenent"},{"tipus":"unitat","x":466,"y":737,"text":"m²/aprenent"},{"tipus":"unitat","x":880,"y":719,"text":"m²/aprenent"},{"tipus":"unitat","x":1273,"y":674,"text":"m²/aprenent"},{"tipus":"unitat","x":1621,"y":882,"text":"m²/aprenent"},{"tipus":"unitat","x":1975,"y":1000,"text":"m²/aprenent"},{"tipus":"unitat","x":558,"y":1017,"text":"m²/aprenent"},{"tipus":"unitat","x":937,"y":1001,"text":"m²/aprenent"},{"tipus":"unitat","x":1240,"y":954,"text":"m²/aprenent"},{"tipus":"unitat","x":1510,"y":1130,"text":"m²/aprenent"},{"tipus":"unitat","x":223,"y":1254,"text":"m²/aprenent"},{"tipus":"unitat","x":780,"y":1350,"text":"m²/aprenent"},{"tipus":"unitat","x":1197,"y":1323,"text":"m²/aprenent"},{"tipus":"unitat","x":1488,"y":1378,"text":"m²/aprenent"},{"tipus":"unitat","x":1847,"y":1358,"text":"m²/aprenent"},
{"tipus":"mes","x":1240,"y":196,"text":"+"},{"tipus":"mes","x":1937,"y":177,"text":"+"},{"tipus":"mes","x":878,"y":575,"text":"+"},{"tipus":"mes","x":1633,"y":751,"text":"+"},{"tipus":"mes","x":1987,"y":869,"text":"+"},{"tipus":"mes","x":207,"y":1213,"text":"+"},{"tipus":"mes","x":1205,"y":1191,"text":"+"},{"tipus":"mes","x":1831,"y":1214,"text":"+"}]
},
"data":{"name":"cercles"},
"encoding":{"x":{"field":"x","type":"quantitative","axis":null,"scale":{"domain":[0,2130],"range":[0,2130],"nice":false,"zero":false}},"y":{"field":"y","type":"quantitative","axis":null,"scale":{"domain":[0,1399],"range":[0,1399],"nice":false,"zero":false}}},
"layer":[
{"data":{"name":"cercles"},"transform":[{"filter":"datum.mida=='a'"}],"mark":{"type":"circle","opacity":1,"color":"#636466","size":141376}},
{"data":{"name":"cercles"},"transform":[{"filter":"datum.mida=='b'"}],"mark":{"type":"circle","opacity":1,"color":"#636466","size":114244}},
{"data":{"name":"cercles"},"transform":[{"filter":"datum.mida=='c'"}],"mark":{"type":"circle","opacity":1,"color":"#636466","size":68644}},
{"data":{"name":"cercles"},"transform":[{"filter":"datum.mida=='d'"}],"mark":{"type":"circle","opacity":1,"color":"#636466","size":50176}},
{"data":{"name":"sales"},"mark":{"type":"area","color":"#857b74","opacity":1,"interpolate":"linear","orient":"vertical"},"encoding":{"y2":{"field":"y2"},"detail":{"field":"s","type":"nominal"}}},
{"data":{"name":"murs"},"mark":{"type":"rule"},"encoding":{"x2":{"field":"x2"},"y2":{"field":"y2"},"color":{"field":"t","type":"nominal","legend":null,"scale":{"domain":["m","f","c","e","ec","d"],"range":["#ffffff","#ffffff","#cfc8c0","#ffffff","#cfc8c0","#ffffff"]}},"strokeWidth":{"field":"t","type":"nominal","legend":null,"scale":{"type":"ordinal","domain":["m","f","c","e","ec","d"],"range":[3,1.3,2,6,6,3]}},"strokeDash":{"field":"t","type":"nominal","legend":null,"scale":{"domain":["m","f","c","e","ec","d"],"range":[[1,0],[1,0],[1,0],[2,4],[2,4],[7,4]]}}}},
{"data":{"name":"portes"},"mark":{"type":"point","filled":false,"color":"#ffffff","strokeWidth":1,"size":90,"opacity":1},"encoding":{"shape":{"field":"o","type":"nominal","legend":null,"scale":{"domain":["a","b","c","d"],"range":["M-1,1L-1,-1A2,2 0 0 1 1,1","M1,1L1,-1A2,2 0 0 0 -1,1","M-1,-1L-1,1A2,2 0 0 0 1,-1","M1,-1L1,1A2,2 0 0 1 -1,-1"]}}}},
{"data":{"name":"textos"},"transform":[{"filter":"datum.tipus=='titol'"}],"mark":{"type":"text","font":"Open Sans","fontWeight":300,"fontSize":26,"align":"center","baseline":"alphabetic","color":"#2b2b2b"},"encoding":{"text":{"field":"text"}}},
{"data":{"name":"textos"},"transform":[{"filter":"datum.tipus=='cos'"}],"mark":{"type":"text","font":"Open Sans","fontWeight":300,"fontSize":25,"align":"left","baseline":"alphabetic","color":"#2b2b2b"},"encoding":{"text":{"field":"text"}}},
{"data":{"name":"textos"},"transform":[{"filter":"datum.tipus=='cos2'"}],"mark":{"type":"text","font":"Open Sans","fontWeight":300,"fontSize":24.3,"align":"left","baseline":"alphabetic","color":"#2b2b2b"},"encoding":{"text":{"field":"text"}}},
{"data":{"name":"textos"},"transform":[{"filter":"datum.tipus=='nom'"}],"mark":{"type":"text","font":"Open Sans","fontWeight":300,"fontSize":19.5,"align":"center","baseline":"alphabetic","color":"#e4e4e4"},"encoding":{"text":{"field":"text"}}},
{"data":{"name":"textos"},"transform":[{"filter":"datum.tipus=='v1'"}],"mark":{"type":"text","font":"Open Sans","fontWeight":700,"fontSize":52,"align":"left","baseline":"alphabetic","color":"#ffffff"},"encoding":{"text":{"field":"text"}}},
{"data":{"name":"textos"},"transform":[{"filter":"datum.tipus=='v2'"}],"mark":{"type":"text","font":"Open Sans","fontWeight":700,"fontSize":41,"align":"left","baseline":"alphabetic","color":"#ffffff"},"encoding":{"text":{"field":"text"}}},
{"data":{"name":"textos"},"transform":[{"filter":"datum.tipus=='v3'"}],"mark":{"type":"text","font":"Open Sans","fontWeight":700,"fontSize":36,"align":"left","baseline":"alphabetic","color":"#ffffff"},"encoding":{"text":{"field":"text"}}},
{"data":{"name":"textos"},"transform":[{"filter":"datum.tipus=='v4'"}],"mark":{"type":"text","font":"Open Sans","fontWeight":700,"fontSize":31,"align":"left","baseline":"alphabetic","color":"#ffffff"},"encoding":{"text":{"field":"text"}}},
{"data":{"name":"textos"},"transform":[{"filter":"datum.tipus=='unitat'"}],"mark":{"type":"text","font":"Open Sans","fontSize":10,"align":"left","baseline":"alphabetic","color":"#f0f0f0"},"encoding":{"text":{"field":"text"}}},
{"data":{"name":"textos"},"transform":[{"filter":"datum.tipus=='mes'"}],"mark":{"type":"text","font":"Open Sans","fontWeight":600,"fontSize":30,"align":"center","baseline":"middle","color":"#ffffff"},"encoding":{"text":{"field":"text"}}}
]}
